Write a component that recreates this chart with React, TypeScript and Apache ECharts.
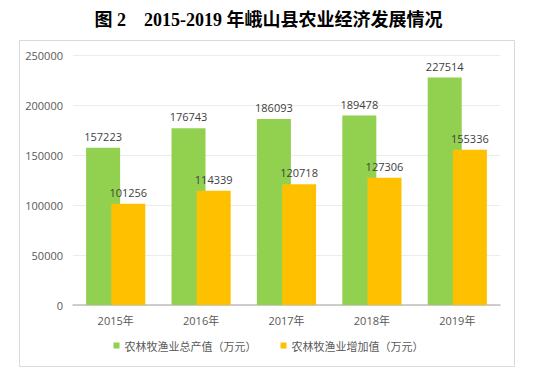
import React, { useEffect, useRef } from "react";
import * as echarts from "echarts";

const categories = ["2015年", "2016年", "2017年", "2018年", "2019年"];
const grossOutput = [157223, 176743, 186093, 189478, 227514];
const addedValue = [101256, 114339, 120718, 127306, 155336];
const seriesNames = ["农林牧渔业总产值（万元）", "农林牧渔业增加值（万元）"];
const titleText = "图 2　2015-2019 年峨山县农业经济发展情况";

export default function App() {
  const ref = useRef<HTMLDivElement>(null);
  useEffect(() => {
    if (!ref.current) return;
    const chart = echarts.init(ref.current, undefined, { renderer: "svg" });
    const labelStyle = {
      show: true,
      position: "top" as const,
      distance: 6,
      fontSize: 11,
      color: "#404040",
      fontFamily: "Open Sans, Noto Sans CJK SC, sans-serif",
    };
    chart.setOption({
      animation: false,
      backgroundColor: "#ffffff",
      title: {
        text: titleText,
        left: "center",
        top: 6,
        textStyle: {
          fontSize: 18,
          fontWeight: "bold",
          color: "#000000",
          fontFamily: "Liberation Serif, Noto Sans CJK SC, serif",
        },
      },
      graphic: [
        {
          type: "rect",
          shape: { x: 19.5, y: 40.5, width: 495, height: 326 },
          style: { fill: "none", stroke: "#d9d9d9", lineWidth: 1 },
          silent: true,
          z: -1,
        },
      ],
      grid: { left: 73, right: 37, top: 55, bottom: 70 },
      legend: {
        bottom: 19,
        left: "center",
        icon: "rect",
        itemWidth: 6,
        itemHeight: 6,
        itemGap: 24,
        textStyle: {
          fontSize: 11,
          color: "#595959",
          fontFamily: "Noto Sans CJK SC, sans-serif",
        },
        data: seriesNames,
      },
      xAxis: {
        type: "category",
        data: categories,
        axisLine: { lineStyle: { color: "#bfbfbf", width: 1.5 } },
        axisTick: { show: false },
        axisLabel: {
          fontSize: 11,
          color: "#595959",
          margin: 10,
          fontFamily: "Open Sans, Noto Sans CJK SC, sans-serif",
        },
      },
      yAxis: {
        type: "value",
        min: 0,
        max: 250000,
        interval: 50000,
        axisLine: { show: false },
        axisTick: { show: false },
        splitLine: { lineStyle: { color: "#ececec", width: 1 } },
        axisLabel: {
          fontSize: 11,
          color: "#595959",
          margin: 10,
          formatter: (v: number) => String(v),
          fontFamily: "Open Sans, Noto Sans CJK SC, sans-serif",
        },
      },
      series: [
        {
          name: seriesNames[0],
          type: "bar",
          data: grossOutput,
          barWidth: 34,
          barGap: "-26%",
          itemStyle: { color: "#92D050" },
          label: labelStyle,
        },
        {
          name: seriesNames[1],
          type: "bar",
          data: addedValue,
          barWidth: 34,
          barGap: "-26%",
          itemStyle: { color: "#FFC000" },
          label: labelStyle,
        },
      ],
    });
    return () => chart.dispose();
  }, []);
  return (
    <div
      ref={ref}
      style={{ position: "fixed", left: 0, top: 0, width: 537, height: 375 }}
    />
  );
}
